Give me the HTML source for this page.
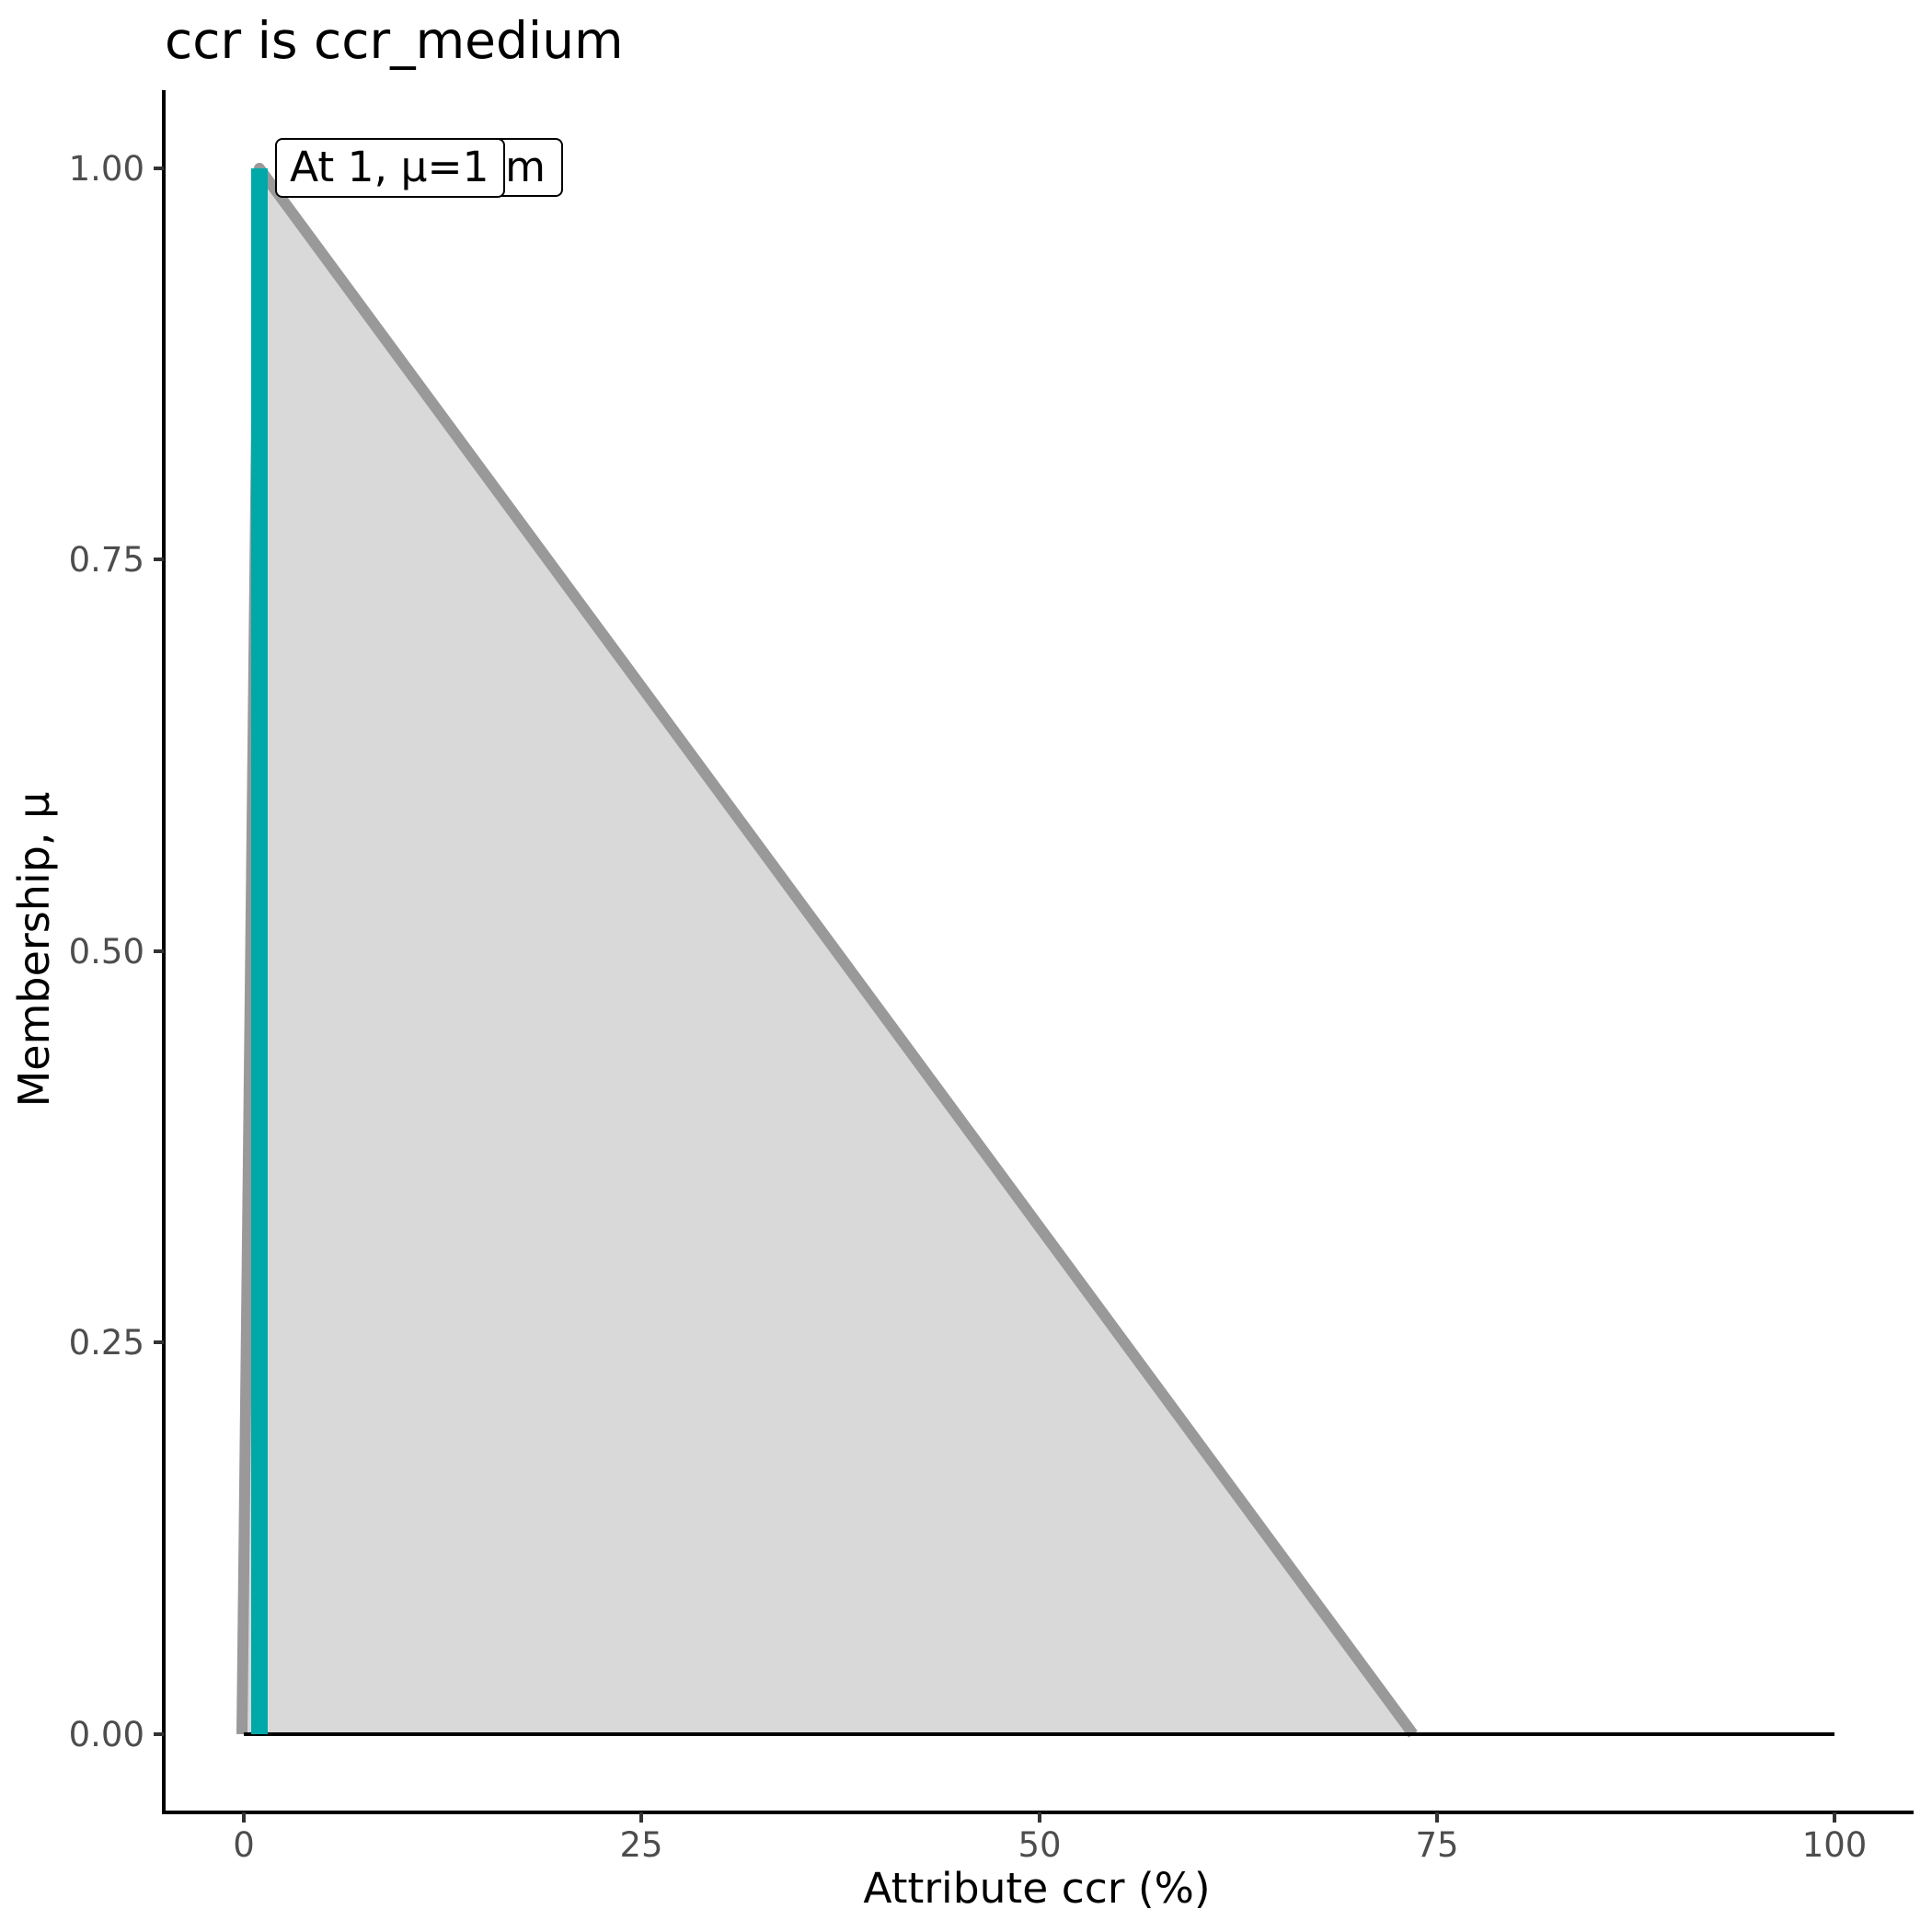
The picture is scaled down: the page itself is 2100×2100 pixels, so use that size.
<!DOCTYPE html>
<html><head><meta charset="utf-8"><style>html,body{margin:0;padding:0;background:#fff}svg{display:block}</style></head>
<body>
<svg width="2100" height="2100" viewBox="0 0 2100 2100" xmlns="http://www.w3.org/2000/svg" font-family="DejaVu Sans, Liberation Sans, sans-serif">
<rect width="2100" height="2100" fill="#fff"/>
<text x="179" y="63" font-size="55" fill="#000">ccr is ccr_medium</text>
<polygon points="265,1885 282,183 1536,1885" fill="#d9d9d9"/>
<polyline points="263,1885 282,183 1536,1885" fill="none" stroke="#999" stroke-width="12" stroke-linejoin="round"/>
<line x1="265" y1="1885" x2="1994" y2="1885" stroke="#000" stroke-width="4"/>
<line x1="282" y1="183" x2="282" y2="1885" stroke="#00a9a9" stroke-width="18"/>
<rect x="330" y="151" width="281" height="62" rx="7" fill="#fff" stroke="#000" stroke-width="2"/>
<text x="593" y="197" font-size="45" text-anchor="end" fill="#000">ccr_medium</text>
<rect x="300" y="151" width="248" height="63" rx="7" fill="#fff" stroke="#000" stroke-width="2"/>
<text x="315" y="197" font-size="45.5" fill="#000">At 1, μ=1</text>
<line x1="178" y1="98" x2="178" y2="1972" stroke="#000" stroke-width="4"/>
<line x1="176" y1="1970" x2="2080" y2="1970" stroke="#000" stroke-width="4"/>
<g stroke="#333" stroke-width="4">
<line x1="167" y1="183" x2="178" y2="183"/>
<line x1="167" y1="608" x2="178" y2="608"/>
<line x1="167" y1="1034" x2="178" y2="1034"/>
<line x1="167" y1="1459" x2="178" y2="1459"/>
<line x1="167" y1="1885" x2="178" y2="1885"/>
<line x1="265" y1="1970" x2="265" y2="1981"/>
<line x1="697" y1="1970" x2="697" y2="1981"/>
<line x1="1130" y1="1970" x2="1130" y2="1981"/>
<line x1="1562" y1="1970" x2="1562" y2="1981"/>
<line x1="1994" y1="1970" x2="1994" y2="1981"/>
</g>
<g font-size="37" fill="#4d4d4d" text-anchor="end">
<text x="157" y="196">1.00</text>
<text x="157" y="621">0.75</text>
<text x="157" y="1047">0.50</text>
<text x="157" y="1472">0.25</text>
<text x="157" y="1898">0.00</text>
</g>
<g font-size="37" fill="#4d4d4d" text-anchor="middle">
<text x="265" y="2018">0</text>
<text x="697" y="2018">25</text>
<text x="1130" y="2018">50</text>
<text x="1562" y="2018">75</text>
<text x="1994" y="2018">100</text>
</g>
<text x="1127" y="2068" font-size="45.5" text-anchor="middle" fill="#000">Attribute ccr (%)</text>
<text transform="translate(53,1032) rotate(-90)" font-size="46" text-anchor="middle" fill="#000">Membership, μ</text>
</svg>
</body></html>
